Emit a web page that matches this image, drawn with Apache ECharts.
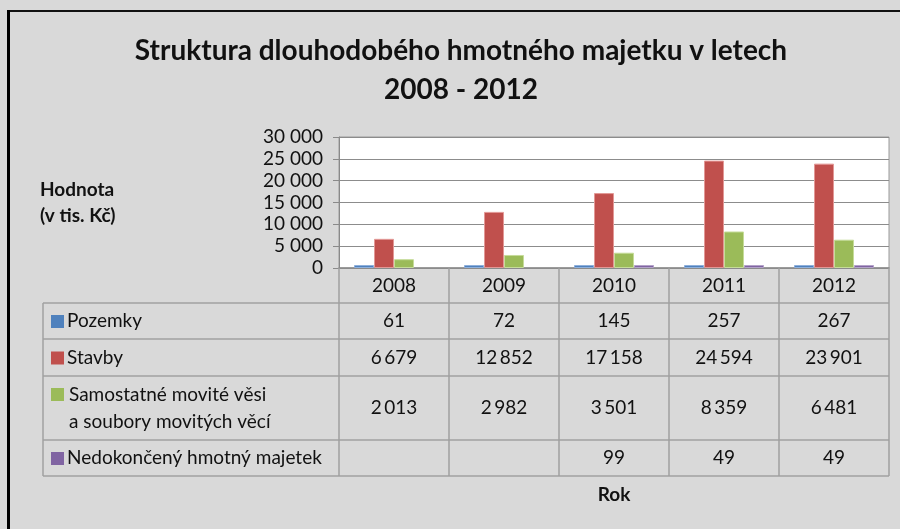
<!DOCTYPE html>
<html>
<head>
<meta charset="utf-8">
<script src="https://cdn.jsdelivr.net/npm/echarts@6/dist/echarts.min.js"></script>
<style>
  html, body { margin: 0; padding: 0; background: #d9d9d9; }
  #chart { width: 900px; height: 529px; }
</style>
</head>
<body>
<div id="chart"></div>
<script>
const years = ['2008', '2009', '2010', '2011', '2012'];
const seriesNames = ['Pozemky', 'Stavby', 'Samostatné movité věsi\na soubory movitých věcí', 'Nedokončený hmotný majetek'];
const pozemky = [61, 72, 145, 257, 267];
const stavby = [6679, 12852, 17158, 24594, 23901];
const movite = [2013, 2982, 3501, 8359, 6481];
const nedokonceny = [null, null, 99, 49, 49];
const yTicks = [0, 5000, 10000, 15000, 20000, 25000, 30000];

const color = ['#4f81bd', '#c0504d', '#9bbb59', '#8064a2'];
const border = ['#8eb0dc', '#e39896', '#c6dc9a', '#b3a2c9'];
const font = 'Lato, "Open Sans", sans-serif';

// layout of plot area + data table
const gridLeft = 339, gridRight = 889, gridTop = 137, gridBottom = 268;
const colW = (gridRight - gridLeft) / years.length;
const tableLeft = 43;
const rowLines = [303, 339, 376, 440, 476];

const fmt = v => v == null ? '' : String(v).replace(/\B(?=(\d{3})+(?!\d))/g, '\u2009');

const allData = [pozemky, stavby, movite, nedokonceny];

const graphic = [
    // frame (top + left dark edge)
    { type: 'rect', shape: { x: 7, y: 10, width: 893, height: 2 }, style: { fill: '#111' } },
    { type: 'rect', shape: { x: 7, y: 10, width: 3, height: 519 }, style: { fill: '#000' } },
    {
        type: 'text', x: 461, y: 31,
        style: {
            text: 'Struktura dlouhodobého hmotného majetku v letech\n2008 - 2012',
            font: 'bold 28px ' + font, fill: '#111', align: 'center', verticalAlign: 'top', lineHeight: 39
        }
    },
    {
        type: 'text', left: 40, top: 177,
        style: { text: 'Hodnota\n(v tis. Kč)', font: 'bold 19px ' + font, fill: '#111', lineHeight: 26 }
    },
    {
        type: 'text', x: (gridLeft + gridRight) / 2, y: 495,
        style: { text: 'Rok', font: 'bold 19px ' + font, fill: '#111', align: 'center', verticalAlign: 'middle' }
    },
    // table left border
    {
        type: 'line', shape: { x1: tableLeft, y1: rowLines[0], x2: tableLeft, y2: rowLines[rowLines.length - 1] },
        style: { stroke: '#a0a0a0', lineWidth: 1.5 }
    }
];

rowLines.forEach(y => {
    graphic.push({
        type: 'line', shape: { x1: tableLeft, y1: y, x2: gridRight, y2: y },
        style: { stroke: '#a0a0a0', lineWidth: 1.5 }
    });
});

seriesNames.forEach((name, i) => {
    const top = rowLines[i], bottom = rowLines[i + 1];
    const mid = (top + bottom) / 2;
    const multi = name.indexOf('\n') >= 0;
    const keyY = multi ? top + 12 : mid - 6;
    graphic.push({
        type: 'rect', shape: { x: 51, y: keyY, width: 13, height: 13 }, style: { fill: color[i] }
    });
    graphic.push({
        type: 'text', x: multi ? 69 : 67, y: multi ? mid : mid,
        style: { text: name, font: '19px ' + font, fill: '#111', verticalAlign: 'middle', lineHeight: 27 }
    });
    allData[i].forEach((v, j) => {
        graphic.push({
            type: 'text', x: gridLeft + colW * (j + 0.5), y: mid,
            style: { text: fmt(v), font: '19px ' + font, fill: '#111', align: 'center', verticalAlign: 'middle' }
        });
    });
});

const chart = echarts.init(document.getElementById('chart'));
chart.setOption({
    backgroundColor: '#d9d9d9',
    animation: false,
    grid: {
        left: gridLeft, right: 900 - gridRight, top: gridTop, bottom: 529 - gridBottom,
        show: true, backgroundColor: '#fff', borderColor: '#9a9a9a', borderWidth: 1
    },
    xAxis: {
        type: 'category',
        data: years,
        axisLine: { lineStyle: { color: '#8a8a8a', width: 1.5 } },
        axisTick: { show: true, alignWithLabel: false, length: rowLines[rowLines.length - 1] - gridBottom, lineStyle: { color: '#a0a0a0', width: 1.5 } },
        axisLabel: { margin: 8, fontSize: 19, fontFamily: font, color: '#111' }
    },
    yAxis: {
        type: 'value',
        min: yTicks[0],
        max: yTicks[yTicks.length - 1],
        interval: yTicks[1] - yTicks[0],
        axisLine: { show: true, lineStyle: { color: '#8a8a8a' } },
        axisTick: { show: true, length: 6, lineStyle: { color: '#8a8a8a' } },
        splitLine: { lineStyle: { color: '#8c8c8c' } },
        axisLabel: { margin: 16, fontSize: 19, fontFamily: font, color: '#111', formatter: v => String(v).replace(/\B(?=(\d{3})+(?!\d))/g, ' ') }
    },
    series: allData.map((d, i) => ({
        name: seriesNames[i],
        type: 'bar',
        data: d,
        barWidth: 20,
        barGap: '0%',
        barMinHeight: 3,
        itemStyle: { color: color[i], borderColor: border[i], borderWidth: 1 }
    })),
    graphic
});
</script>
</body>
</html>
